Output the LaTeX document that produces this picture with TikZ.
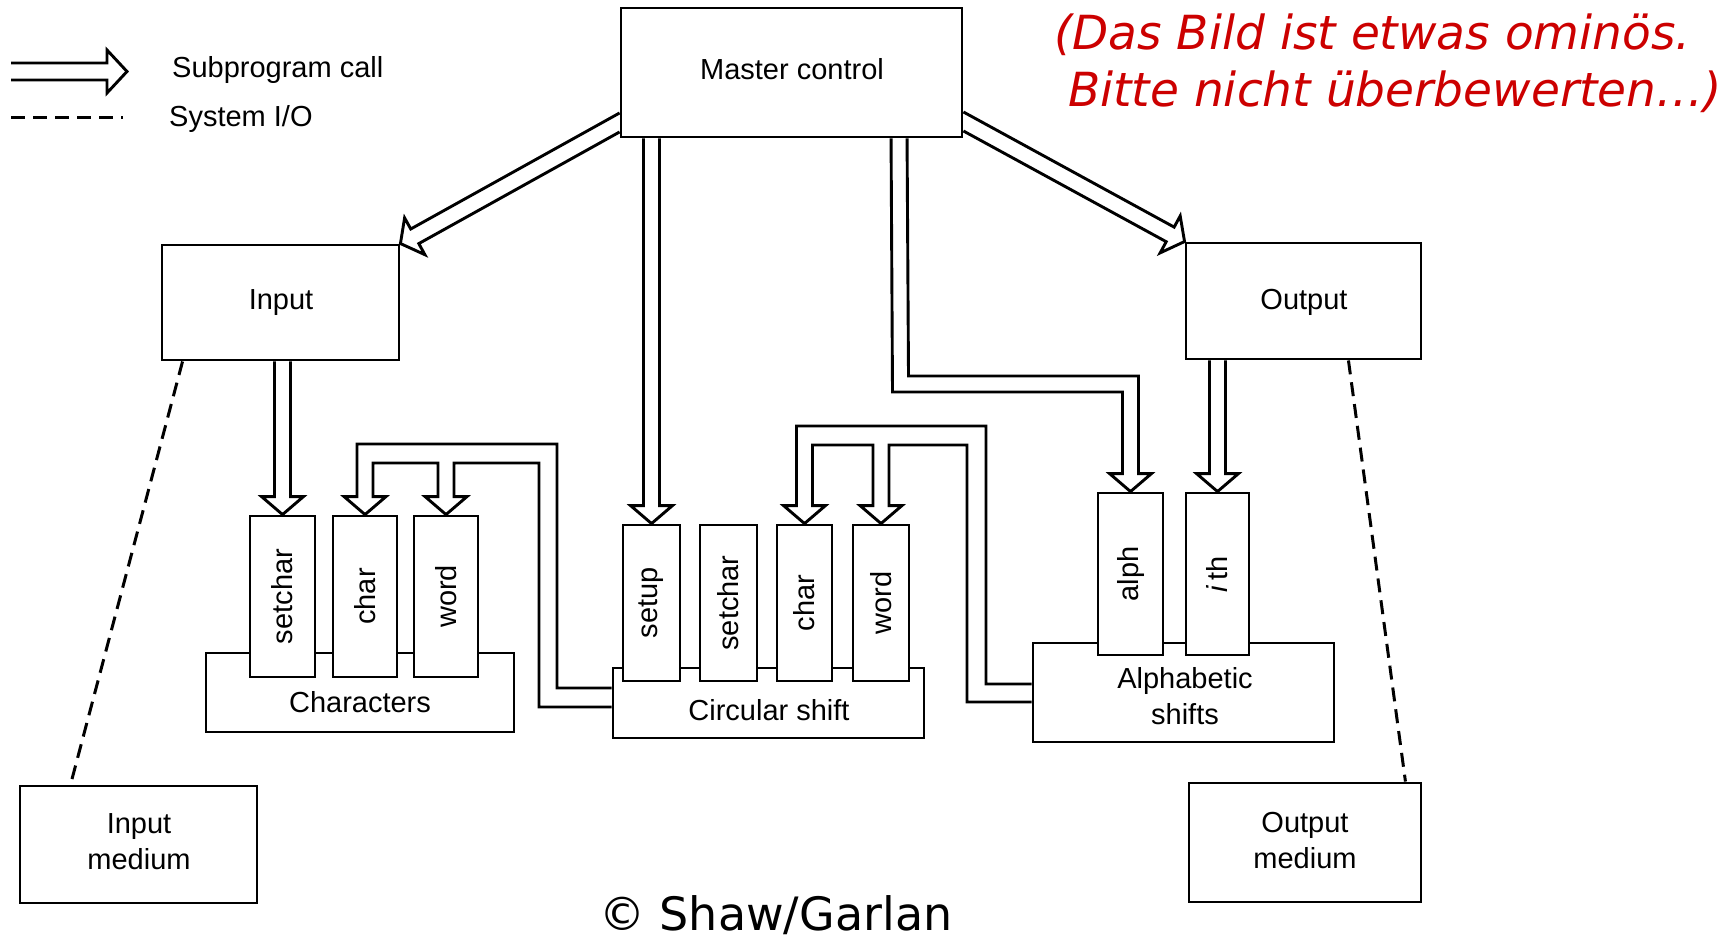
\documentclass[tikz,border=0pt]{standalone}
\usepackage{fontspec}
\setmainfont{Liberation Sans}
\newfontfamily\notefont{DejaVu Sans}[ItalicFont={DejaVu Sans Oblique}]
\usetikzlibrary{calc,fit}
\definecolor{notered}{RGB}{204,0,0}
\begin{document}
\begin{tikzpicture}[x=1pt,y=-1pt,
  box/.style={draw, line width=2.9pt, inner sep=0pt, fill=white},
  lbl/.style={font=\fontsize{29}{36}\selectfont, align=center, inner sep=0pt},
  vlbl/.style={lbl, rotate=90},
  call/.style={draw, line width=2.9pt, line join=miter},
  io/.style={draw, line width=3pt, dash pattern=on 14pt off 8pt},
  note/.style={font=\notefont\itshape\fontsize{47}{56}\selectfont, text=notered, inner sep=0pt},
  copyr/.style={font=\notefont\fontsize{46}{56}\selectfont, inner sep=0pt},
  headto/.style={insert path={-- ($(#1.north)+(-8,-18)$) -- ++(-13,0) -- (#1.north) -- ++(21,-18) -- ++(-13,0)}},
]
\fill[white] (0,0) rectangle (1735,941);
\useasboundingbox (0,0) rectangle (1735,941);

% legend
\coordinate (legA) at (11,71.5);
\coordinate (legB) at (127,71.5);
\draw[call] ($(legA)+(0,-8.5)$) -- ($(legB)+(-20,-8.5)$) -- ($(legB)+(-20,-21.5)$) -- (legB) -- ($(legB)+(-20,21.5)$) -- ($(legB)+(-20,8.5)$) -- ($(legA)+(0,8.5)$);
\node[lbl, anchor=base west] (legT1) at (172,78) {Subprogram call};
\coordinate (legC) at (11,118);
\coordinate (legD) at (123,118);
\draw[io] (legC) -- (legD);
\node[lbl, anchor=base west] (legT2) at (169,127) {System I/O};

% main boxes
\node[box, fit={(621,8) (962,137)}] (master) {};
\node[box, fit={(162,245) (399,360)}] (input) {};
\node[box, fit={(1186,243) (1421,359)}] (output) {};
\node[box, fit={(20,786) (257,903)}] (inmed) {};
\node[box, fit={(1189,783) (1421,902)}] (outmed) {};
\node[box, fit={(206,653) (514,732)}] (chars) {};
\node[box, fit={(613,668) (924,738)}] (circ) {};
\node[box, fit={(1033,643) (1334,742)}] (alpha) {};

% function boxes
\node[box, fit={(250,516) (315,677)}] (cSetchar) {};
\node[box, fit={(333,516) (397,677)}] (cChar) {};
\node[box, fit={(414,516) (478,677)}] (cWord) {};
\node[box, fit={(623,525) (680,681)}] (sSetup) {};
\node[box, fit={(700,525) (757,681)}] (sSetchar) {};
\node[box, fit={(777,525) (832,681)}] (sChar) {};
\node[box, fit={(853,525) (909,681)}] (sWord) {};
\node[box, fit={(1098,493) (1163,655)}] (aAlph) {};
\node[box, fit={(1186,493) (1249,655)}] (aIth) {};

% labels
\node[lbl, anchor=base] (masterL) at (792,80) {Master control};
\node[lbl, anchor=base] (inputL) at (281,310) {Input};
\node[lbl, anchor=base] (outputL) at (1304,309) {Output};
\node[lbl] (inmedL) at (139,841.5) {Input\\medium};
\node[lbl] (outmedL) at (1305,841) {Output\\medium};
\node[lbl, anchor=base] (charsL) at (360,712) {Characters};
\node[lbl, anchor=base] (circL) at (769,720) {Circular shift};
\node[lbl] (alphaL) at (1185,696) {Alphabetic\\shifts};

\node[vlbl] (cSetcharL) at (cSetchar.center) {setchar};
\node[vlbl] (cCharL) at (cChar.center) {char};
\node[vlbl] (cWordL) at (cWord.center) {word};
\node[vlbl] (sSetupL) at (sSetup.center) {setup};
\node[vlbl] (sSetcharL) at (sSetchar.center) {setchar};
\node[vlbl] (sCharL) at (sChar.center) {char};
\node[vlbl] (sWordL) at (sWord.center) {word};
\node[vlbl] (aAlphL) at (aAlph.center) {alph};
\node[vlbl] (aIthL) at (aIth.center) {\textit{i}\,th};

% straight subprogram calls
\draw[call] ($(input.south -| cSetchar.north)+(-8,0)$) [headto=cSetchar] -- ($(input.south -| cSetchar.north)+(8,0)$);
\draw[call] ($(master.south -| sSetup.north)+(-8,0)$) [headto=sSetup] -- ($(master.south -| sSetup.north)+(8,0)$);
\draw[call] ($(output.south -| aIth.north)+(-8,0)$) [headto=aIth] -- ($(output.south -| aIth.north)+(8,0)$);

% master -> alph
\draw[call] ($(master.south west)+(271.5,0)$) -- (892.5,392) -- (1122.5,392) [headto=aAlph] -- (1138.5,376) -- (908.5,376) -- ($(master.south west)+(287.5,0)$);

% circular shift -> char, word (Characters)
\draw[call] ($(circ.west)+(0,-15)$) -- (557,688) -- (557,444) -- (357,444) [headto=cChar] -- (373,463) -- (438,463) [headto=cWord] -- (454,463) -- (539,463) -- (539,707) -- ($(circ.west)+(0,4)$);

% alphabetic shifts -> char, word (Circular shift)
\draw[call] ($(alpha.west)+(0,-8.5)$) -- (986,684) -- (986,426) -- (796.5,426) [headto=sChar] -- (812.5,445) -- (873,445) [headto=sWord] -- (889,445) -- (967,445) -- (967,702) -- ($(alpha.west)+(0,9.5)$);

% diagonal calls
\draw[call] ($(master.west)+(0,40.5)$) -- (410.75,229.0) -- (404.6,217.9) -- (input.north east) -- (424.9,254.7) -- (418.8,243.6) -- ($(master.west)+(0,59.5)$);
\draw[call] ($(master.east)+(0,39.5)$) -- (1174.14,227.12) -- (1180.19,215.96) -- (output.north west) -- (1160.17,252.88) -- (1166.22,241.72) -- ($(master.east)+(0,58.5)$);

% system I/O
\draw[io] ($(input.south west)+(22,0)$) -- ($(inmed.north west)+(52,0)$);
\draw[io] ($(output.south east)+(-74,0)$) -- ($(outmed.north east)+(-17,0)$);

% notes
\node[note, anchor=base west] (noteA) at (1054,50) {(Das Bild ist etwas ominös.};
\node[note, anchor=base west] (noteB) at (1068,107) {Bitte nicht überbewerten…)};
\node[copyr, anchor=base west] (copy) at (599,930) {© Shaw/Garlan};
\end{tikzpicture}
\end{document}
